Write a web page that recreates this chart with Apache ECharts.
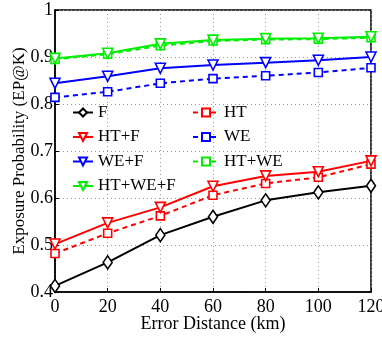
<!DOCTYPE html>
<html><head><meta charset="utf-8">
<script src="https://cdn.jsdelivr.net/npm/echarts@6/dist/echarts.min.js"></script>
<style>html,body{margin:0;padding:0;background:#fff}#c{width:382px;height:340px}</style>
</head><body><div id="c"></div>
<script>
const xVals = [0, 20, 40, 60, 80, 100, 120];
const F = [0.413, 0.463, 0.521, 0.560, 0.595, 0.612, 0.626];
const HT = [0.482, 0.525, 0.562, 0.606, 0.631, 0.644, 0.672];
const HTF = [0.502, 0.547, 0.580, 0.625, 0.647, 0.656, 0.679];
const WE = [0.814, 0.826, 0.844, 0.854, 0.860, 0.867, 0.877];
const WEF = [0.844, 0.859, 0.876, 0.883, 0.888, 0.893, 0.900];
const HTWE = [0.895, 0.906, 0.924, 0.934, 0.937, 0.938, 0.941];
const HTWEF = [0.897, 0.908, 0.928, 0.936, 0.939, 0.940, 0.943];
const font = 'Liberation Serif';
function mk(name, data, color, symbol, dashed, size, rot) {
  return {
    name, type: 'line', data: xVals.map((x, i) => [x, data[i]]),
    symbol, symbolSize: size, symbolRotate: rot || 0,
    lineStyle: { color, width: 2, type: dashed ? [5, 4] : 'solid' },
    itemStyle: { color: '#fff', borderColor: color, borderWidth: 1.6 },
    z: 3
  };
}
const chart = echarts.init(document.getElementById('c'));
chart.setOption({
  animation: false,
  backgroundColor: '#fff',
  grid: { left: 55, right: 11, top: 10, bottom: 48, outerBoundsMode: 'none', containLabel: false,
    show: true, borderColor: '#000', borderWidth: 1.5, backgroundColor: 'transparent' },
  xAxis: {
    type: 'value', min: 0, max: 120, interval: 20,
    name: 'Error Distance (km)', nameLocation: 'middle', nameGap: 23, nameMoveOverlap: false,
    nameTextStyle: { fontFamily: font, fontSize: 18, color: '#000' },
    axisLine: { lineStyle: { color: '#000', width: 1.5 } },
    axisTick: { inside: true, length: 4, lineStyle: { color: '#000' } },
    axisLabel: { fontFamily: font, fontSize: 18, color: '#000', margin: 6 },
    splitLine: { show: true, lineStyle: { color: '#999', type: [1, 3], width: 1 } }
  },
  yAxis: {
    type: 'value', min: 0.4, max: 1, interval: 0.1,
    name: 'Exposure Probability (EP@K)', nameLocation: 'middle', nameGap: 27, nameMoveOverlap: false,
    nameTextStyle: { fontFamily: font, fontSize: 17, color: '#000' },
    axisLine: { show: true, lineStyle: { color: '#000', width: 1.5 } },
    axisTick: { show: true, inside: true, length: 4, lineStyle: { color: '#000' } },
    axisLabel: { fontFamily: font, fontSize: 18, color: '#000', margin: 2,
      formatter: v => (Math.abs(v - 1) < 1e-9 ? '1' : v.toFixed(1)) },
    splitLine: { show: true, lineStyle: { color: '#999', type: [1, 3], width: 1 } }
  },
  legend: [
    { data: ['F', 'HT+F', 'WE+F', 'HT+WE+F'], orient: 'vertical', left: 72, top: 104, itemGap: 7.5, padding: 0,
      itemWidth: 20, itemHeight: 10, textStyle: { fontFamily: font, fontSize: 17, color: '#000' } },
    { data: ['HT', 'WE', 'HT+WE'], orient: 'vertical', left: 192, top: 104, itemGap: 7.5, padding: 0,
      itemWidth: 26, itemHeight: 10, textStyle: { fontFamily: font, fontSize: 17, color: '#000' } }
  ],
  series: [
    mk('F', F, '#000', 'diamond', false, [9, 13]),
    mk('HT', HT, '#ff0000', 'rect', true, 8),
    mk('HT+F', HTF, '#ff0000', 'triangle', false, 10, 180),
    mk('WE', WE, '#0000ff', 'rect', true, 8),
    mk('WE+F', WEF, '#0000ff', 'triangle', false, 10, 180),
    mk('HT+WE', HTWE, '#00ee00', 'rect', true, 8),
    mk('HT+WE+F', HTWEF, '#00ee00', 'triangle', false, 10, 180)
  ]
});
</script></body></html>
